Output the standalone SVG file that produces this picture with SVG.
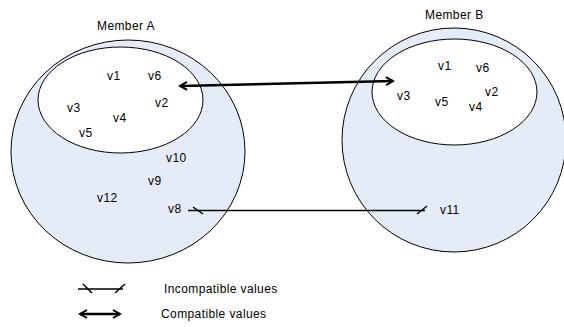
<svg xmlns="http://www.w3.org/2000/svg" width="564" height="327" viewBox="0 0 564 327">
<style>
text{font-family:"Liberation Sans",Arial,sans-serif;font-size:12px;letter-spacing:0.4px;fill:#000}
.outer{fill:#e5ecf7;stroke:#000;stroke-width:1}
.inner{fill:#fff;stroke:#000;stroke-width:1}
.thick{fill:none;stroke:#000;stroke-width:2.5}
.thin{fill:none;stroke:#000;stroke-width:1.5}
</style>
<defs>
<marker id="chev" viewBox="0 0 10 10" refX="8" refY="5" markerWidth="4" markerHeight="4" orient="auto-start-reverse" markerUnits="strokeWidth">
<path d="M1,1 L8,5 L1,9" fill="none" stroke="#000" stroke-width="2"/>
</marker>
</defs>
<rect width="564" height="327" fill="#fff"/>
<g id="memberA">
<ellipse class="outer" cx="128" cy="151.5" rx="117" ry="111.5"/>
<ellipse class="inner" cx="120.5" cy="100" rx="82.5" ry="53"/>
<text x="97" y="30">Member A</text>
<text x="107" y="80">v1</text>
<text x="148" y="80">v6</text>
<text x="67" y="112">v3</text>
<text x="155" y="107">v2</text>
<text x="113" y="122">v4</text>
<text x="79" y="137">v5</text>
<text x="166" y="162">v10</text>
<text x="148" y="185">v9</text>
<text x="97" y="202">v12</text>
<text x="168" y="213">v8</text>
</g>
<g id="memberB">
<ellipse class="outer" cx="454" cy="140" rx="112" ry="112"/>
<ellipse class="inner" cx="454.5" cy="92" rx="82.5" ry="53"/>
<text x="425" y="19">Member B</text>
<text x="438" y="70">v1</text>
<text x="476" y="72">v6</text>
<text x="485" y="96">v2</text>
<text x="397" y="100">v3</text>
<text x="435" y="106">v5</text>
<text x="469" y="111">v4</text>
<text x="440" y="214">v11</text>
</g>
<g id="connectors">
<line class="thick" x1="180" y1="86" x2="393" y2="81" marker-start="url(#chev)" marker-end="url(#chev)"/>
<line class="thin" x1="188" y1="210.5" x2="425" y2="210.5"/>
<line class="thin" x1="193" y1="207" x2="203" y2="214"/>
<line class="thin" x1="417" y1="214" x2="427" y2="206"/>
</g>
<g id="legend">
<line class="thin" x1="78" y1="289" x2="123" y2="289"/>
<line class="thin" x1="83" y1="284" x2="92" y2="293"/>
<line class="thin" x1="115" y1="293" x2="125" y2="284"/>
<text x="164" y="293">Incompatible values</text>
<line class="thick" x1="80" y1="314" x2="120" y2="314" marker-start="url(#chev)" marker-end="url(#chev)"/>
<text x="161" y="318">Compatible values</text>
</g>
</svg>
